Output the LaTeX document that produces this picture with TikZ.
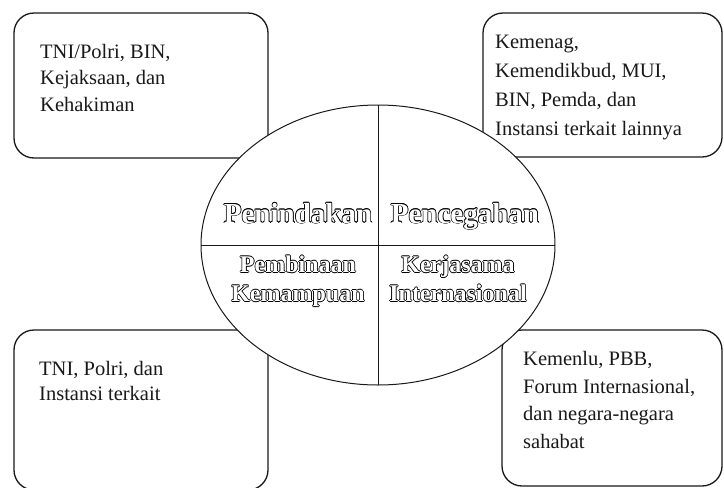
\documentclass[tikz,border=0pt]{standalone}
\usepackage{fontspec}
\setmainfont{Liberation Serif}
\usepackage{tikz}
\usetikzlibrary{shapes.geometric}

% hollow letters: black copies round the word, white word on top
\newcommand{\hollow}[1]{%
  \foreach \hx/\hy in {0.65/0,-0.65/0,0/0.65,0/-0.65,0.46/0.46,-0.46/0.46,0.46/-0.46,-0.46/-0.46}{%
    \rlap{\hspace{\hx pt}\raisebox{\hy pt}{#1}}}%
  \textcolor{white}{#1}}

\begin{document}
\begin{tikzpicture}[x=1pt, y=-1pt,
    box/.style={draw=black!90, line width=1.3pt, rounded corners=20pt},
    txt/.style={anchor=north west, inner sep=0pt, align=left, text=black!90},
    big/.style={anchor=base, inner sep=0pt, font=\fontsize{29}{34}\selectfont\bfseries},
    small/.style={anchor=north, inner sep=0pt, align=center, font=\fontsize{24}{29}\selectfont\bfseries}]
	\useasboundingbox (0,0) rectangle (724,488);

	\draw[box] (14,13) rectangle (268,158);
	\draw[box] (483,13) rectangle (722,157);
	\draw[box] (14,330) rectangle (268,490);
	\draw[box] (502,330) rectangle (722,486);

	\node[txt, font=\fontsize{20.5}{26.5}\selectfont] at (40, 43.8) (t1) {TNI/Polri, BIN,\\Kejaksaan, dan\\Kehakiman};
	\node[txt, font=\fontsize{20.5}{29.2}\selectfont] at (495, 34.6) (t2) {Kemenag,\\Kemendikbud, MUI,\\BIN, Pemda, dan\\Instansi terkait lainnya};
	\node[txt, font=\fontsize{20.5}{25.5}\selectfont] at (39, 361) (t3) {TNI, Polri, dan\\Instansi terkait};
	\node[txt, font=\fontsize{20.5}{27.7}\selectfont] at (523, 351) (t4) {Kemenlu, PBB,\\Forum Internasional,\\dan negara-negara\\sahabat};

	\node[ellipse, draw=black!90, fill=white, line width=1pt, inner sep=0pt, outer sep=0pt,
	      minimum width=354pt, minimum height=280pt] at (378, 245) (el) {};
	\draw[line width=1pt, black!90] (el.north) -- (el.south);
	\draw[line width=1pt, black!90] (el.west) -- (el.east);

	\node[big] at (298, 223) (q1) {\hollow{Penindakan}};
	\node[big] at (465, 223) (q2) {\hollow{Pencegahan}};
	\node[small] at (298, 255) (q3) {\hollow{Pembinaan}\\\hollow{Kemampuan}};
	\node[small] at (458, 255) (q4) {\hollow{Kerjasama}\\\hollow{Internasional}};
\end{tikzpicture}
\end{document}
